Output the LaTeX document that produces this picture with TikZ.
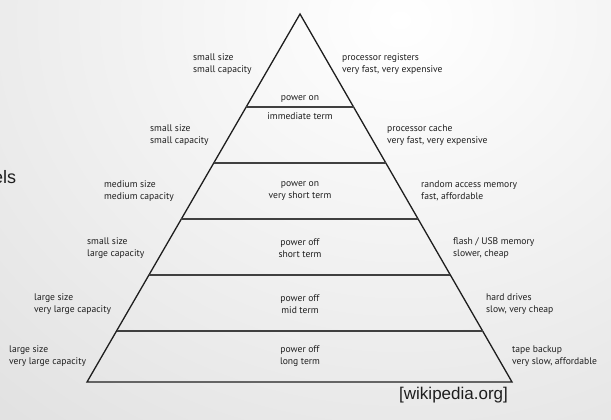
\documentclass[tikz,border=0pt]{standalone}
\usepackage{fontspec}
\setmainfont{PT Sans}
\newfontfamily\arialf{Liberation Sans}
\usetikzlibrary{calc}
\definecolor{ink}{HTML}{1E1E1E}
\tikzset{
  lbl/.style={font=\fontsize{9.6}{12}\selectfont, text=ink, align=left, anchor=west, inner sep=0pt},
  ctr/.style={font=\fontsize{9.6}{12}\selectfont, text=ink, align=center, anchor=center, inner sep=0pt},
  edge/.style={draw=ink, line width=1.3pt, line join=miter},
  tier/.style={draw=ink!85, line width=1.3pt}
}
\begin{document}
\begin{tikzpicture}[x=1pt,y=-1pt]
\useasboundingbox (0,0) rectangle (611,420);
\shade[inner color=white, outer color=black!14] (-340,-620) rectangle (1140,660);
% pyramid
\coordinate (A) at (300,14);
\coordinate (BL) at (87,382);
\coordinate (BR) at (512,382);
\draw[edge] (BL) -- (A) -- (BR) -- cycle;
\foreach \n/\t in {1/0.2527,2/0.4049,3/0.5571,4/0.7092,5/0.8614}{
  \coordinate (L\n) at ($(A)!\t!(BL)$);
  \coordinate (R\n) at ($(A)!\t!(BR)$);
}
\draw[tier, line width=1.9pt] (L1) -- (R1);
\draw[tier] (L2) -- (R2);
\draw[tier] (L3) -- (R3);
\draw[tier] (L4) -- (R4);
\draw[tier] (L5) -- (R5);
% row 1
\node[lbl] (l1) at (193,64) {small size\\small capacity};
\node[lbl] (r1) at (342,64) {processor registers\\very fast, very expensive};
\node[ctr] (c1a) at (300,99) {power on};
\node[ctr] (c1b) at (300,116) {immediate term};
% row 2
\node[lbl] (l2) at (150,135) {small size\\small capacity};
\node[lbl] (r2) at (387,135) {processor cache\\very fast, very expensive};
% row 3
\node[lbl] (l3) at (104,191) {medium size\\medium capacity};
\node[ctr] (c3) at (300,191) {power on\\very short term};
\node[lbl] (r3) at (421,191) {random access memory\\fast, affordable};
% row 4
\node[lbl] (l4) at (87,248) {small size\\large capacity};
\node[ctr] (c4) at (300,248) {power off\\short term};
\node[lbl] (r4) at (453,248) {flash / USB memory\\slower, cheap};
% row 5
\node[lbl] (l5) at (34,304) {large size\\very large capacity};
\node[ctr] (c5) at (300,304) {power off\\mid term};
\node[lbl] (r5) at (486,304) {hard drives\\slow, very cheap};
% row 6
\node[lbl] (l6) at (9,356) {large size\\very large capacity};
\node[ctr] (c6) at (300,356) {power off\\long term};
\node[lbl] (r6) at (512,356) {tape backup\\very slow, affordable};
% source
\node[anchor=west, inner sep=0pt, font=\arialf\fontsize{17}{20}\selectfont, text=ink] (src) at (399,395) {[wikipedia.org]};
\node[anchor=west, inner sep=0pt, font=\arialf\fontsize{18}{20}\selectfont, text=ink] (els) at (-7,177) {els};
\end{tikzpicture}
\end{document}
